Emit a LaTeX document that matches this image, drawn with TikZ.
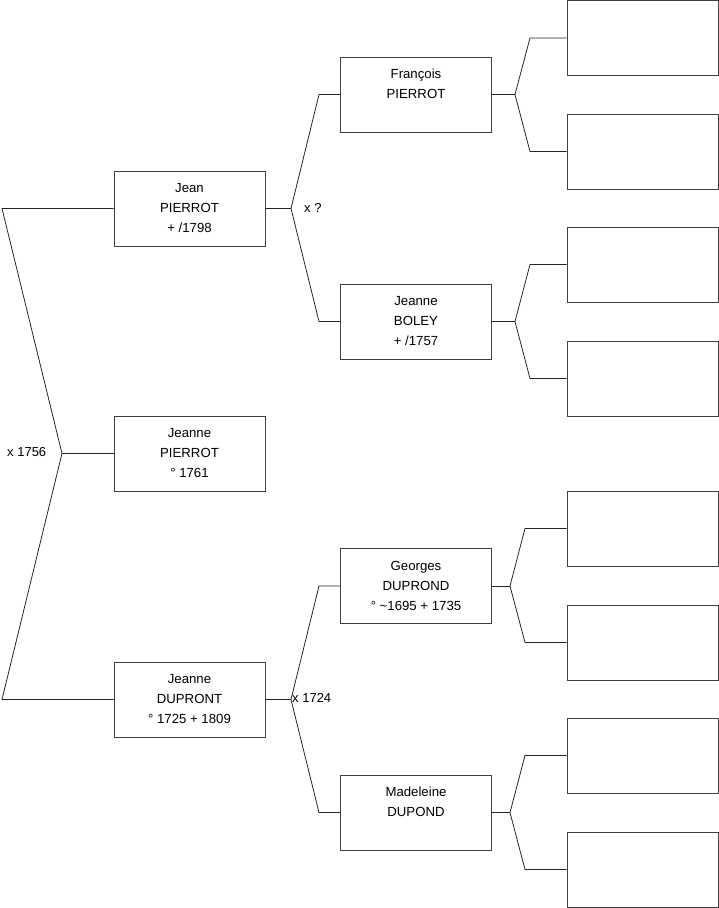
\documentclass[tikz,border=0pt]{standalone}
\usepackage{fontspec}
\setmainfont{Liberation Sans}
\newcommand\famtxt[1]{\raisebox{2.5pt}{\begin{tabular}{@{}c@{}}#1\end{tabular}}}
\begin{document}
\begin{tikzpicture}[x=1pt,y=-1pt,
  person/.style={draw=black!75, line width=0.9pt, minimum width=151, minimum height=75, inner sep=0pt, align=center, font=\fontsize{13.2}{20}\selectfont},
  lbl/.style={inner sep=0pt, font=\fontsize{13}{15}\selectfont},
  link/.style={draw=black!85, line width=0.8pt}]
\useasboundingbox (0,0) rectangle (719,908);
% generation 1
\node[person] (jean) at (189.5,208.5) {\famtxt{Jean\\PIERROT\\+ /1798}};
\node[person] (jp) at (189.5,453.5) {\famtxt{Jeanne\\PIERROT\\° 1761}};
\node[person] (jd) at (189.5,699.5) {\famtxt{Jeanne\\DUPRONT\\° 1725 + 1809}};
% generation 2
\node[person] (fr) at (416,94.5) {\famtxt{François\\PIERROT\\\mbox{}}};
\node[person] (jb) at (416,321.5) {\famtxt{Jeanne\\BOLEY\\+ /1757}};
\node[person] (ge) at (416,586) {\famtxt{Georges\\DUPROND\\° \textasciitilde1695 + 1735}};
\node[person] (ma) at (416,812.5) {\famtxt{Madeleine\\DUPOND\\\mbox{}}};
% generation 3
\node[person] (a1) at (642.5,38) {};
\node[person] (a2) at (642.5,151.5) {};
\node[person] (a3) at (642.5,264.5) {};
\node[person] (a4) at (642.5,378.5) {};
\node[person] (a5) at (642.5,528.5) {};
\node[person] (a6) at (642.5,642.5) {};
\node[person] (a7) at (642.5,755.5) {};
\node[person] (a8) at (642.5,869.5) {};
% vertices and corners
\coordinate (v0) at (62,453.5);
\coordinate (c0a) at (2,208.5);
\coordinate (c0b) at (2,699.5);
\coordinate (v1) at (291,208.5);
\coordinate (c1a) at (319,94.5);
\coordinate (c1b) at (319,321.5);
\coordinate (v2) at (291,699.5);
\coordinate (c2a) at (319,586);
\coordinate (c2b) at (319,812.5);
\coordinate (v3) at (515,94.5);
\coordinate (c3a) at (530,38);
\coordinate (c3b) at (530,151.5);
\coordinate (v4) at (515,321.5);
\coordinate (c4a) at (530,264.5);
\coordinate (c4b) at (530,378.5);
\coordinate (v5) at (510,586);
\coordinate (c5a) at (525,528.5);
\coordinate (c5b) at (525,642.5);
\coordinate (v6) at (510,812.5);
\coordinate (c6a) at (525,755.5);
\coordinate (c6b) at (525,869.5);
% links
\draw[link] (jean.west) -- (c0a) -- (v0) -- (c0b) -- (jd.west);
\draw[link] (v0) -- (jp.west);
\draw[link] (jean.east) -- (v1);
\draw[link] (fr.west) -- (c1a) -- (v1) -- (c1b) -- (jb.west);
\draw[link] (jd.east) -- (v2);
\draw[link] (ge.west) -- (c2a) -- (v2) -- (c2b) -- (ma.west);
\draw[link] (fr.east) -- (v3);
\draw[link] (a1.west) -- (c3a) -- (v3) -- (c3b) -- (a2.west);
\draw[link] (jb.east) -- (v4);
\draw[link] (a3.west) -- (c4a) -- (v4) -- (c4b) -- (a4.west);
\draw[link] (ge.east) -- (v5);
\draw[link] (a5.west) -- (c5a) -- (v5) -- (c5b) -- (a6.west);
\draw[link] (ma.east) -- (v6);
\draw[link] (a7.west) -- (c6a) -- (v6) -- (c6b) -- (a8.west);
% labels
\node[lbl, anchor=west] (l0) at (7,452) {x 1756};
\node[lbl, anchor=west] (l1) at (304,207.5) {x ?};
\node[lbl, anchor=west] (l2) at (292,698) {x 1724};
\end{tikzpicture}
\end{document}
